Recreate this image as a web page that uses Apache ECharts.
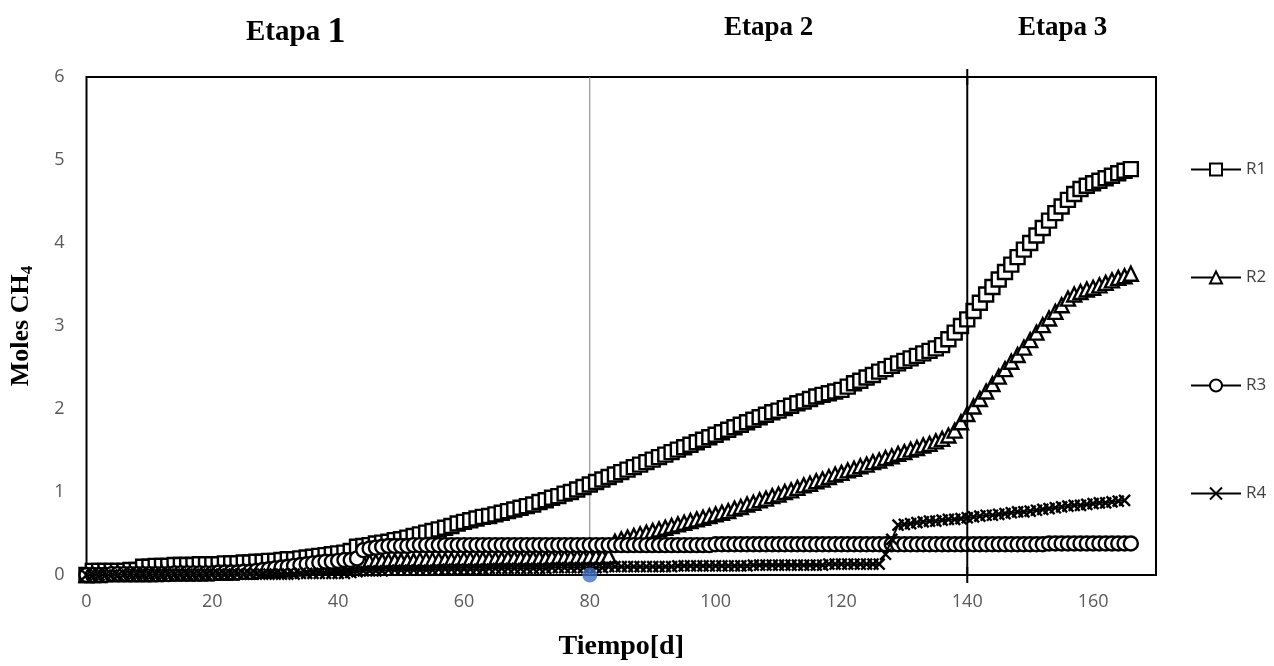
<!DOCTYPE html>
<html>
<head>
<meta charset="utf-8">
<script src="https://cdn.jsdelivr.net/npm/echarts@6/dist/echarts.min.js"></script>
<style>
html,body{margin:0;padding:0;background:#fff;}
#chart{width:1274px;height:666px;}
</style>
</head>
<body>
<div id="chart"></div>
<script>
// Day index = position in each array (0 ... n-1)
const seriesNames = ['R1', 'R2', 'R3', 'R4'];
const xTicks = [0, 20, 40, 60, 80, 100, 120, 140, 160];
const yTicks = [0, 1, 2, 3, 4, 5, 6];
const stageLabels = ['Etapa ', '1', 'Etapa 2', 'Etapa 3'];
const stageLines = [80, 140];

const r1 = [
  0,
  0.05,0.05,0.05,0.05,0.05,0.05,0.06,0.06,
  0.10,0.10,0.11,0.11,0.11,0.12,0.12,0.12,0.12,0.13,0.13,0.13,
  0.13,0.14,0.14,0.14,0.15,0.15,0.16,0.16,0.17,0.17,
  0.18,0.19,0.19,0.20,0.21,0.22,0.23,0.24,0.25,0.26,0.27,0.29,
  0.34,0.35,0.36,0.38,0.39,0.40,0.42,0.43,
  0.45,0.47,0.49,0.51,0.53,0.55,0.57,0.59,0.62,0.64,
  0.66,0.68,0.70,0.71,0.73,0.75,0.77,0.79,0.81,0.83,
  0.85,0.88,0.90,0.93,0.95,0.98,1.00,1.03,1.06,1.09,
  1.12,1.15,1.18,1.21,1.24,1.27,1.30,1.33,1.36,1.39,
  1.42,1.45,1.48,1.51,1.54,1.57,1.60,1.63,1.66,1.69,
  1.72,1.75,1.78,1.81,1.84,1.87,1.90,1.93,1.96,1.98,
  2.01,2.04,2.07,2.09,2.12,2.15,2.17,2.19,2.21,2.23,
  2.27,2.31,2.34,2.38,2.41,2.45,2.48,2.52,2.55,2.58,
  2.61,2.64,2.67,2.70,2.73,2.77,2.84,2.92,3.00,3.08,
  3.18,3.28,3.38,3.47,3.56,3.65,3.74,3.83,3.92,4.00,
  4.09,4.18,4.27,4.36,4.44,4.52,4.59,4.65,4.69,4.72,
  4.75,4.78,4.81,4.84,4.87,4.89
];
const r2 = [
  0,
  0.00,0.00,0.01,0.01,0.01,0.01,0.01,0.01,0.01,0.01,0.01,0.02,0.02,0.02,0.02,0.02,0.02,0.02,0.02,0.03,
  0.03,0.03,0.03,0.04,0.04,0.04,0.05,0.05,0.06,0.06,
  0.07,0.07,0.08,0.08,0.09,0.09,0.10,0.11,0.11,0.12,0.13,0.14,
  0.15,0.16,0.16,0.16,0.17,0.17,0.17,0.17,
  0.17,0.17,0.18,0.18,0.18,0.18,0.18,0.18,0.18,0.19,
  0.19,0.19,0.19,0.19,0.19,0.19,0.20,0.20,0.20,0.20,
  0.20,0.20,0.20,0.21,0.21,0.21,0.21,0.21,0.21,0.22,
  0.22,0.22,0.23,0.40,0.43,0.45,0.47,0.49,0.51,0.53,
  0.55,0.57,0.59,0.61,0.63,0.65,0.67,0.69,0.71,0.73,
  0.75,0.77,0.80,0.82,0.85,0.87,0.90,0.92,0.95,0.97,
  1.00,1.02,1.05,1.08,1.10,1.13,1.15,1.18,1.21,1.23,
  1.26,1.28,1.31,1.33,1.36,1.38,1.41,1.43,1.46,1.48,
  1.51,1.53,1.56,1.58,1.61,1.64,1.68,1.74,1.84,1.94,
  2.03,2.12,2.21,2.30,2.39,2.48,2.57,2.65,2.74,2.83,
  2.92,3.01,3.09,3.17,3.25,3.33,3.38,3.41,3.44,3.46,
  3.49,3.52,3.55,3.58,3.60,3.63
];
const r3 = [
  0,
  0.00,0.00,0.00,0.01,0.01,0.01,0.01,0.01,0.01,0.01,0.01,0.01,0.01,0.02,0.02,0.02,0.02,0.02,0.02,0.02,
  0.03,0.03,0.03,0.03,0.04,
  0.04,0.05,0.06,0.07,0.08,0.09,0.10,0.11,0.12,0.13,0.14,0.15,0.16,0.16,0.17,0.18,0.18,
  0.20,0.30,0.32,0.33,0.34,0.35,0.35,0.35,
  0.35,0.36,0.36,0.36,0.36,0.36,0.36,0.36,0.36,0.36,
  0.36,0.36,0.36,0.36,0.36,0.36,0.36,0.36,0.36,0.36,
  0.36,0.36,0.36,0.36,0.36,0.36,0.36,0.36,0.36,0.36,
  0.36,0.36,0.36,0.36,0.36,0.36,0.36,0.36,0.36,0.36,
  0.36,0.36,0.36,0.36,0.36,0.36,0.36,0.36,0.36,0.37,
  0.37,0.37,0.37,0.37,0.37,0.37,0.37,0.37,0.37,0.37,
  0.37,0.37,0.37,0.37,0.37,0.37,0.37,0.37,0.37,0.37,
  0.37,0.37,0.37,0.37,0.37,0.37,0.37,0.37,0.37,0.37,
  0.37,0.37,0.37,0.37,0.37,0.37,0.37,0.37,0.37,0.37,
  0.37,0.37,0.37,0.37,0.37,0.37,0.37,0.37,0.37,0.37,
  0.37,0.37,0.38,0.38,0.38,0.38,0.38,0.38,0.38,0.38,
  0.38,0.38,0.38,0.38,0.38,0.38
];
const r4 = [
  0,
  0.00,0.00,0.00,0.00,0.00,0.01,0.01,0.01,0.01,0.01,0.01,0.01,0.01,0.01,0.01,0.01,0.01,0.01,0.01,0.01,
  0.01,0.01,0.01,0.01,0.01,0.01,0.01,0.01,0.01,0.01,
  0.01,0.01,0.01,0.02,0.02,0.02,0.02,0.02,0.02,0.02,
  0.02,0.03,0.04,0.05,0.05,0.05,0.05,0.06,0.06,0.06,
  0.06,0.06,0.06,0.06,0.06,0.07,0.07,0.07,0.07,0.07,
  0.07,0.07,0.07,0.08,0.08,0.08,0.08,0.08,0.08,0.08,
  0.08,0.08,0.08,0.09,0.09,0.09,0.09,0.09,0.09,0.09,
  0.09,0.09,0.10,0.10,0.10,0.10,0.10,0.10,0.10,0.10,
  0.10,0.10,0.10,0.11,0.11,0.11,0.11,0.11,0.11,0.11,
  0.11,0.11,0.11,0.11,0.11,0.12,0.12,0.12,0.12,0.12,
  0.12,0.12,0.12,0.12,0.12,0.12,0.12,0.13,0.13,0.13,
  0.13,0.13,0.13,0.13,0.13,0.13,0.25,0.43,0.60,0.61,
  0.62,0.63,0.64,0.65,0.65,0.66,0.67,0.67,0.68,0.69,
  0.70,0.71,0.72,0.72,0.73,0.74,0.75,0.76,0.76,0.77,
  0.78,0.79,0.80,0.81,0.82,0.83,0.84,0.84,0.85,0.86,
  0.87,0.87,0.88,0.89,0.90
];

const toXY = arr => arr.map((v, i) => [i, v]);
const xPath = 'path://M0,0L10,10M10,0L0,10';
const plusPath = 'path://M5,0L5,10M0,5L10,5';

const chart = echarts.init(document.getElementById('chart'), null, {renderer: 'canvas'});
const markerStyle = {color: '#ffffff', borderColor: '#000000', borderWidth: 2.4};
const lineStyle = {color: '#000000', width: 2};

function mkSeries(name, data, symbol, size, z) {
  return {
    name: name, type: 'line', data: toXY(data),
    symbol: symbol, symbolSize: size, showAllSymbol: true,
    lineStyle: lineStyle, itemStyle: markerStyle,
    z: z, animation: false, clip: false
  };
}

const option = {
  backgroundColor: '#ffffff',
  animation: false,
  grid: {left: 83, right: 118, top: 77, bottom: 88, show: true, borderColor: '#000', borderWidth: 2, backgroundColor: '#fff'},
  xAxis: {
    type: 'value', min: 0, max: 170, interval: 20,
    axisLine: {show: false}, axisTick: {show: false}, splitLine: {show: false},
    axisLabel: {color: '#595959', fontFamily: 'Open Sans', fontSize: 18, margin: 18, showMaxLabel: false,
      formatter: v => xTicks.includes(v) ? String(v) : ''},
    name: 'Tiempo[d]', nameLocation: 'middle', nameGap: 58,
    nameTextStyle: {fontFamily: 'Liberation Serif', fontWeight: 'bold', fontSize: 28, color: '#000'}
  },
  yAxis: {
    type: 'value', min: 0, max: 6, interval: 1,
    axisLine: {show: false}, axisTick: {show: false}, splitLine: {show: false},
    axisLabel: {color: '#595959', fontFamily: 'Open Sans', fontSize: 18, margin: 22,
      formatter: v => yTicks.includes(v) ? String(v) : ''},
    name: 'Moles CH{s|4}', nameLocation: 'middle', nameGap: 50,
    nameTextStyle: {fontFamily: 'Liberation Serif', fontWeight: 'bold', fontSize: 26, color: '#000',
      rich: {s: {fontFamily: 'Liberation Serif', fontWeight: 'bold', fontSize: 17, color: '#000', verticalAlign: 'bottom', padding: [14, 0, 0, 0]}}}
  },
  legend: {
    orient: 'vertical', left: 1185, top: 156, itemWidth: 50, itemHeight: 15, itemGap: 91,
    data: seriesNames,
    textStyle: {color: '#404040', fontFamily: 'Open Sans', fontSize: 17}
  },
  graphic: [
    {type: 'text', left: 246, top: 15, style: {rich: {a: {fontFamily: 'Liberation Serif', fontWeight: 'bold', fontSize: 29, fill: '#000'}, b: {fontFamily: 'Liberation Serif', fontWeight: 'bold', fontSize: 36, fill: '#000'}}, text: '{a|' + stageLabels[0] + '}{b|' + stageLabels[1] + '}'}},
    {type: 'text', left: 724, top: 15, style: {text: stageLabels[2], font: 'bold 27px "Liberation Serif"', fill: '#000'}},
    {type: 'text', left: 1018, top: 15, style: {text: stageLabels[3], font: 'bold 27px "Liberation Serif"', fill: '#000'}}
  ],
  series: [
    {type: 'line', data: [[stageLines[0], 0], [stageLines[0], 6]], symbol: 'none', lineStyle: {color: '#7f7f7f', width: 1}, z: 1, silent: true},
    {type: 'line', data: [[stageLines[1], 0], [stageLines[1], 6]], symbol: plusPath, symbolSize: 16, clip: false,
      itemStyle: {color: '#000', borderColor: '#000', borderWidth: 2}, lineStyle: {color: '#000', width: 2}, z: 8, silent: true},
    mkSeries('R1', r1, 'rect', 14, 2),
    mkSeries('R2', r2, 'triangle', 14, 3),
    mkSeries('R3', r3, 'circle', 14, 4),
    mkSeries('R4', r4, xPath, 11, 5),
    {type: 'scatter', data: [[stageLines[0], 0]], symbol: 'circle', symbolSize: 15, itemStyle: {color: '#4472c4'}, z: 6, clip: false}
  ]
};
chart.setOption(option);
</script>
</body>
</html>
